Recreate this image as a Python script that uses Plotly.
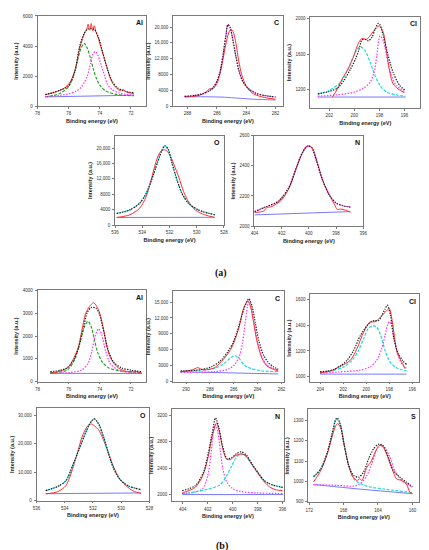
import plotly.graph_objects as go

# ---------------- (a) Al 2p ----------------
al_a_raw_x = [77.5, 77.1, 76.7, 76.3, 76.1, 75.9, 75.7, 75.5, 75.3, 75.1, 74.95, 74.85, 74.75, 74.65, 74.55,
              74.45, 74.35, 74.25, 74.1, 73.9, 73.7, 73.5, 73.3, 73.1, 72.9, 72.7, 72.5, 72.3, 72.1, 71.8]
al_a_raw = [760, 860, 990, 1180, 1350, 1600, 2050, 2750, 3800, 4500, 4900, 5050, 5450, 5050, 5500,
            5000, 5350, 4950, 4550, 3850, 3150, 2450, 1800, 1400, 1180, 1020, 1100, 960, 890, 850]
al_a_fit_x = [77.5, 77.0, 76.5, 76.0, 75.6, 75.3, 75.0, 74.8, 74.55, 74.35, 74.1, 73.8, 73.5, 73.2, 72.85, 72.4, 71.8]
al_a_fit = [770, 900, 1080, 1350, 2300, 3950, 4850, 5120, 5150, 5100, 4620, 3520, 2420, 1650, 1210, 990, 880]
al_a_p1_x = [77.5, 77.0, 76.5, 76.0, 75.7, 75.4, 75.2, 75.0, 74.8, 74.6, 74.4, 74.2, 74.0, 73.6, 73.0, 72.5, 71.8]
al_a_p1 = [620, 700, 880, 1300, 2000, 3150, 3850, 4180, 3850, 3200, 2400, 1800, 1400, 1000, 800, 720, 690]
al_a_p2_x = [77.5, 76.5, 76.0, 75.5, 75.2, 75.0, 74.8, 74.6, 74.45, 74.3, 74.15, 73.95, 73.7, 73.5, 73.2, 72.8, 72.4, 71.8]
al_a_p2 = [640, 720, 820, 1000, 1250, 1550, 2000, 2800, 3450, 3630, 3450, 2850, 2050, 1450, 1100, 880, 790, 730]
al_a_bg_x = [77.5, 71.8]
al_a_bg = [615, 725]

# ---------------- (a) C 1s ----------------
c_a_raw_x = [288.2, 287.6, 287.1, 286.7, 286.5, 286.3, 286.0, 285.8, 285.6, 285.4, 285.2, 285.05, 284.9,
             284.7, 284.5, 284.3, 284.0, 283.6, 283.0, 282.5, 282.0]
c_a_raw = [2300, 2450, 2850, 3700, 4400, 4300, 5700, 8000, 11500, 15500, 18500, 19400, 18900,
           15800, 11200, 7900, 5000, 3300, 2400, 2000, 1750]
c_a_fit_x = [288.2, 287.5, 287.0, 286.5, 286.2, 286.0, 285.8, 285.6, 285.4, 285.25, 285.1, 284.9, 284.7,
             284.5, 284.2, 283.8, 283.3, 282.8, 282.0]
c_a_fit = [2450, 2700, 3100, 3900, 5000, 6300, 8500, 12500, 17500, 20600, 19900, 16500, 12500,
           9000, 6000, 4300, 3200, 2700, 2300]
c_a_bg_x = [288.2, 286.5, 285.5, 284.5, 283.5, 282.0]
c_a_bg = [2400, 2350, 2250, 2000, 1750, 1550]

# ---------------- (a) Cl 2p ----------------
cl_a_raw_x = [201.74, 201.35, 200.96, 200.43, 200.04, 199.65, 199.39, 199.0, 198.6, 198.21, 198.0, 197.69,
              197.43, 197.17, 196.91, 196.52, 196.0]
cl_a_raw = [1115, 1207, 1320, 1450, 1581, 1731, 1776, 1768, 1836, 1900, 1918, 1843, 1619, 1394, 1264, 1207, 1163]
cl_a_fit_x = [202.9, 202.0, 201.35, 200.83, 200.3, 199.91, 199.65, 199.39, 199.13, 198.87, 198.6, 198.35,
              198.08, 197.95, 197.69, 197.3, 196.91, 196.39, 195.92]
cl_a_fit = [1151, 1178, 1215, 1300, 1432, 1544, 1640, 1760, 1765, 1750, 1790, 1880, 1948, 1930, 1806,
            1581, 1394, 1245, 1189]
cl_a_p1_x = [202.91, 202.0, 201.09, 200.56, 200.04, 199.73, 199.47, 199.13, 198.74, 198.35, 197.95, 197.43,
             196.65, 195.92]
cl_a_p1 = [1151, 1189, 1282, 1413, 1581, 1664, 1682, 1638, 1507, 1357, 1245, 1170, 1140, 1125]
cl_a_p2_x = [202.91, 201.35, 200.04, 199.26, 198.74, 198.42, 198.21, 198.06, 197.95, 197.69, 197.43, 197.04,
             196.65, 195.92]
cl_a_p2 = [1125, 1140, 1170, 1215, 1282, 1394, 1581, 1750, 1806, 1750, 1581, 1357, 1245, 1170]
cl_a_bg_x = [202.91, 195.92]
cl_a_bg = [1115, 1115]

# ---------------- (a) O 1s ----------------
o_a_raw_x = [535.88, 534.92, 534.2, 533.72, 533.36, 533.0, 532.71, 532.4, 532.16, 531.92, 531.6, 531.32,
             530.96, 530.6, 530.12, 529.4, 528.68]
o_a_raw = [1970, 2650, 4360, 7350, 11630, 16330, 18900, 19580, 19150, 17780, 15050, 12480,
           8640, 6070, 3930, 2650, 1970]
o_a_fit_x = [535.88, 534.92, 534.2, 533.72, 533.24, 532.88, 532.57, 532.35, 532.11, 531.8, 531.44, 531.08,
             530.6, 529.88, 528.68]
o_a_fit = [2990, 3930, 5640, 8200, 12480, 16330, 19320, 20600, 19750, 15900, 11630, 8200, 5640, 3930, 2650]
o_a_bg_x = [535.88, 528.68]
o_a_bg = [1970, 2000]

# ---------------- (a) N 1s ----------------
n_a_raw_x = [404.0, 403.3, 403.1, 402.7, 402.0, 401.4, 400.9, 400.5, 400.2, 399.95, 399.7, 399.35, 398.99,
             398.5, 398.15, 397.9, 397.67, 397.3, 396.95]
n_a_raw = [2090, 2100, 2122, 2130, 2174, 2262, 2392, 2480, 2528, 2532, 2512, 2414, 2305,
           2207, 2148, 2109, 2113, 2105, 2092]
n_a_fit_x = [404.0, 403.2, 402.25, 401.5, 400.9, 400.5, 400.1, 399.8, 399.45, 398.99, 398.5, 398.0, 397.5, 396.95]
n_a_fit = [2095, 2126, 2164, 2251, 2392, 2484, 2532, 2523, 2436, 2305, 2207, 2153, 2135, 2126]
n_a_bg_x = [404.0, 396.95]
n_a_bg = [2074, 2096]

# ---------------- (b) Al 2p ----------------
al_b_raw_x = [77.18, 76.52, 76.0, 75.69, 75.59, 75.38, 75.18, 74.9, 74.66, 74.41, 74.21, 74.0, 73.73, 73.53,
              73.22, 72.8, 72.19, 71.77, 71.3]
al_b_raw = [360, 460, 640, 1000, 1140, 1500, 2145, 3000, 3290, 3460, 3320, 3000, 2220, 1500,
            930, 600, 430, 460, 360]
al_b_fit_x = [77.18, 76.52, 76.1, 75.69, 75.38, 75.07, 74.82, 74.56, 74.25, 74.04, 73.73, 73.42, 73.11, 72.6,
              71.98, 71.3]
al_b_fit = [430, 500, 600, 930, 1430, 2290, 3000, 3250, 3220, 3000, 2145, 1290, 860, 600, 500, 430]
al_b_p1_x = [77.18, 76.1, 75.59, 75.28, 74.97, 74.76, 74.56, 74.35, 74.14, 73.84, 73.42, 72.6, 71.3]
al_b_p1 = [390, 500, 1000, 1716, 2430, 2645, 2430, 1860, 1290, 860, 600, 460, 390]
al_b_p2_x = [77.18, 75.9, 75.18, 74.76, 74.5, 74.29, 74.08, 73.88, 73.63, 73.32, 72.8, 71.98, 71.3]
al_b_p2 = [360, 400, 500, 790, 1360, 2000, 2317, 2075, 1360, 790, 500, 400, 370]
al_b_bg_x = [77.18, 71.3]
al_b_bg = [360, 355]

# ---------------- (b) C 1s ----------------
c_b_raw_x = [290.46, 289.51, 289.02, 288.55, 287.6, 287.05, 286.37, 285.96, 285.55, 285.14, 284.81, 284.59,
             284.32, 284.04, 283.63, 283.22, 282.68, 282.27]
c_b_raw = [1875, 2190, 2625, 2190, 2625, 3750, 5630, 7500, 10310, 14060, 15190, 14060,
           10940, 7500, 4375, 2940, 2310, 2000]
c_b_fit_x = [290.46, 288.96, 287.87, 287.05, 286.5, 286.09, 285.68, 285.27, 284.86, 284.73, 284.45, 284.18,
             283.91, 283.5, 283.09, 282.68, 282.27]
c_b_fit = [2000, 2190, 2810, 4060, 5630, 7190, 9690, 12810, 15310, 15630, 14060, 10940,
           7810, 5000, 3560, 2810, 2310]
c_b_p1_x = [290.46, 288.69, 287.6, 286.78, 286.23, 285.9, 285.55, 285.14, 284.59, 283.77, 282.27]
c_b_p1 = [1875, 2190, 2500, 3440, 4560, 4875, 4375, 3125, 2500, 2060, 1875]
c_b_p2_x = [290.46, 287.6, 286.5, 285.96, 285.55, 285.27, 285.05, 284.86, 284.73, 284.54, 284.32, 284.04,
            283.63, 283.22, 282.68, 282.27]
c_b_p2 = [1750, 1875, 2310, 3125, 4690, 7190, 10940, 14060, 15440, 14060, 11250, 7810,
          4690, 3125, 2500, 2190]
c_b_bg_x = [290.46, 282.27]
c_b_bg = [1850, 1440]

# ---------------- (b) Cl 2p ----------------
cl_b_raw_x = [204.0, 203.09, 202.51, 201.8, 201.37, 200.8, 200.23, 199.66, 199.23, 198.86, 198.51, 198.23,
              198.0, 197.8, 197.6, 197.37, 197.09, 196.8, 196.66]
cl_b_raw = [1031, 1044, 1069, 1102, 1128, 1218, 1346, 1423, 1428, 1454, 1487, 1513,
            1531, 1461, 1346, 1205, 1141, 1095, 1064]
cl_b_fit_x = [204.0, 203.37, 202.8, 202.23, 201.66, 201.09, 200.51, 199.94, 199.6, 199.31, 198.94, 198.66,
              198.37, 198.17, 197.89, 197.6, 197.23, 196.86, 196.51]
cl_b_fit = [1038, 1044, 1056, 1085, 1128, 1205, 1320, 1397, 1428, 1436, 1436, 1474,
            1526, 1556, 1474, 1295, 1180, 1128, 1095]
cl_b_p1_x = [204.0, 202.8, 201.94, 201.23, 200.66, 200.23, 199.8, 199.43, 199.09, 198.74, 198.37, 197.94,
             197.37, 196.51]
cl_b_p1 = [1033, 1051, 1077, 1128, 1205, 1295, 1377, 1397, 1385, 1320, 1205, 1115, 1069, 1044]
cl_b_p2_x = [204.0, 202.23, 200.51, 199.66, 199.09, 198.66, 198.37, 198.17, 198.0, 197.8, 197.6, 197.31,
             196.94, 196.51]
cl_b_p2 = [1026, 1038, 1051, 1077, 1128, 1218, 1320, 1397, 1428, 1397, 1308, 1192, 1102, 1064]
cl_b_bg_x = [204.0, 196.51]
cl_b_bg = [1020, 1020]

# ---------------- (b) O 1s ----------------
o_b_raw_x = [535.35, 534.49, 533.92, 533.57, 533.1, 532.76, 532.41, 532.13, 531.9, 531.6, 531.26, 530.91,
             530.56, 530.1, 529.52, 529.06, 528.59]
o_b_raw = [2310, 3120, 5200, 9250, 16760, 22540, 26010, 26930, 26240, 24850, 21390, 16760,
           12140, 7510, 4620, 3120, 2540]
o_b_fit_x = [535.35, 534.49, 533.92, 533.45, 532.99, 532.53, 532.18, 531.9, 531.6, 531.26, 530.91, 530.56,
             530.1, 529.52, 528.59]
o_b_fit = [3470, 4970, 6940, 12140, 17920, 23700, 27400, 28670, 26930, 22540, 16760, 11560, 7510, 5200, 3815]
o_b_bg_x = [535.35, 528.59]
o_b_bg = [2400, 2650]

# ---------------- (b) N 1s ----------------
n_b_raw_x = [404.05, 403.0, 402.35, 401.95, 401.64, 401.3, 401.1, 400.8, 400.5, 400.2, 399.8, 399.4, 399.0,
             398.5, 398.0, 397.5, 397.0, 396.5, 396.0]
n_b_raw = [2026, 2110, 2311, 2587, 2888, 3089, 2980, 2700, 2540, 2530, 2590, 2615, 2600,
           2470, 2330, 2200, 2110, 2070, 2060]
n_b_fit_x = [404.05, 403.0, 402.35, 401.95, 401.64, 401.38, 401.1, 400.8, 400.45, 400.1, 399.7, 399.33, 398.9,
             398.4, 397.9, 397.5, 397.0, 396.5, 395.95]
n_b_fit = [2060, 2136, 2336, 2637, 2938, 3164, 3010, 2730, 2545, 2560, 2620, 2650, 2600,
           2450, 2320, 2220, 2160, 2130, 2110]
n_b_p1_x = [404.05, 403.0, 402.4, 402.0, 401.75, 401.55, 401.38, 401.2, 401.0, 400.8, 400.5, 400.0, 399.3,
            398.0, 395.95]
n_b_p1 = [2015, 2040, 2090, 2286, 2600, 2950, 3065, 2960, 2680, 2400, 2200, 2090, 2045, 2025, 2015]
n_b_p2_x = [404.05, 403.0, 402.0, 401.0, 400.5, 400.1, 399.7, 399.33, 398.9, 398.4, 397.9, 397.5, 397.0,
            396.5, 395.95]
n_b_p2 = [2010, 2040, 2080, 2150, 2280, 2430, 2570, 2622, 2570, 2437, 2300, 2211, 2160, 2130, 2105]
n_b_bg_x = [404.05, 395.95]
n_b_bg = [2000, 2000]

# ---------------- (b) S 2p ----------------
s_b_raw_x = [171.5, 170.66, 169.9, 169.32, 168.93, 168.67, 168.28, 167.9, 167.4, 166.9, 166.44, 166.14,
             165.87, 165.3, 164.84, 164.34, 163.84, 163.46, 163.0, 162.42, 161.85, 161.27, 160.7, 160.31, 160.0]
s_b_raw = [997, 1053, 1134, 1223, 1271, 1284, 1255, 1174, 1077, 1021, 1005, 1013,
           1005, 1069, 1094, 1142, 1177, 1171, 1134, 1069, 1013, 1005, 989, 948, 940]
s_b_fit_x = [171.5, 170.66, 169.9, 169.32, 168.93, 168.74, 168.44, 167.98, 167.4, 166.83, 166.25, 165.68,
             165.1, 164.53, 163.95, 163.38, 162.8, 162.23, 161.46, 160.7, 160.0]
s_b_fit = [1024, 1061, 1142, 1239, 1303, 1311, 1287, 1190, 1077, 1029, 1021, 1045,
           1110, 1158, 1182, 1174, 1118, 1053, 1021, 997, 973]
s_b_p1_x = [171.5, 170.66, 169.9, 169.32, 168.82, 168.36, 167.98, 167.4, 166.83, 166.06, 164.91, 163.0, 160.0]
s_b_p1 = [1021, 1061, 1139, 1231, 1306, 1279, 1182, 1077, 1013, 989, 973, 961, 945]
s_b_p2_x = [171.5, 168.74, 166.83, 166.06, 165.3, 164.72, 164.15, 163.76, 163.19, 162.61, 162.04, 161.27,
            160.7, 160.0]
s_b_p2 = [984, 981, 977, 989, 1029, 1086, 1158, 1177, 1166, 1118, 1053, 1005, 989, 973]
s_b_bg_x = [171.5, 166.0, 160.0]
s_b_bg = [985, 962, 940]

W, H = 429, 550

# line styles of the fitting software
STYLES = {
    'bg': dict(color='#7878ff', width=1.0, dash='solid'),
    'raw': dict(color='#ff2e2e', width=1.0, dash='solid'),
    'green': dict(color='#1a9e1a', width=1.1, dash='3px,1.5px'),
    'magenta': dict(color='#ff30ff', width=1.2, dash='1.5px,1.5px'),
    'cyan': dict(color='#18dcdc', width=1.2, dash='3px,1.5px'),
    'fit': dict(color='#1a1a1a', width=1.2, dash='1.3px,1.3px'),
}

# (box in px: left, top, right, bottom), x range, x ticks, y range, y ticks, y tick text, label, curves
panels = [
    dict(box=(26, 6, 137, 97), xr=[78, 71], xt=[78, 76, 74, 72], yr=[0, 6000],
         yt=[0, 2000, 4000, 6000], ytt=None, name='Al',
         curves=[(al_a_bg_x, al_a_bg, 'bg'), (al_a_p1_x, al_a_p1, 'green'), (al_a_p2_x, al_a_p2, 'magenta'),
                 (al_a_raw_x, al_a_raw, 'raw'), (al_a_fit_x, al_a_fit, 'fit')]),
    dict(box=(164, 6, 276, 97), xr=[289, 281.5], xt=[288, 286, 284, 282], yr=[0, 22800],
         yt=[0, 4000, 8000, 12000, 16000, 20000], ytt=['0', '4000', '8000', '12,000', '16,000', '20,000'], name='C',
         curves=[(c_a_bg_x, c_a_bg, 'bg'), (c_a_raw_x, c_a_raw, 'raw'), (c_a_fit_x, c_a_fit, 'magenta'),
                 (c_a_fit_x, c_a_fit, 'fit')]),
    dict(box=(304, 7, 416, 99), xr=[203.5, 194.75], xt=[202, 200, 198, 196], yr=[990, 2020],
         yt=[1200, 1600, 2000], ytt=None, name='Cl',
         curves=[(cl_a_bg_x, cl_a_bg, 'bg'), (cl_a_p1_x, cl_a_p1, 'cyan'), (cl_a_p2_x, cl_a_p2, 'magenta'),
                 (cl_a_raw_x, cl_a_raw, 'raw'), (cl_a_fit_x, cl_a_fit, 'fit')]),
    dict(box=(105, 127, 216, 217), xr=[536, 528], xt=[536, 534, 532, 530, 528], yr=[0, 23200],
         yt=[0, 4000, 8000, 12000, 16000, 20000], ytt=['0', '4000', '8000', '12,000', '16,000', '20,000'], name='O',
         curves=[(o_a_bg_x, o_a_bg, 'bg'), (o_a_raw_x, o_a_raw, 'raw'), (o_a_fit_x, o_a_fit, 'cyan'),
                 (o_a_fit_x, o_a_fit, 'fit')]),
    dict(box=(247, 127, 358, 218), xr=[404, 396], xt=[404, 402, 400, 398, 396], yr=[2000, 2600],
         yt=[2000, 2200, 2400, 2600], ytt=None, name='N',
         curves=[(n_a_bg_x, n_a_bg, 'bg'), (n_a_raw_x, n_a_raw, 'raw'), (n_a_fit_x, n_a_fit, 'magenta'),
                 (n_a_fit_x, n_a_fit, 'fit')]),
    dict(box=(26, 283, 137, 375), xr=[78, 71], xt=[78, 76, 74, 72], yr=[0, 4000],
         yt=[0, 1000, 2000, 3000, 4000], ytt=None, name='Al',
         curves=[(al_b_bg_x, al_b_bg, 'bg'), (al_b_p1_x, al_b_p1, 'green'), (al_b_p2_x, al_b_p2, 'magenta'),
                 (al_b_raw_x, al_b_raw, 'raw'), (al_b_fit_x, al_b_fit, 'fit')]),
    dict(box=(164, 284, 277, 375), xr=[291.1, 281.8], xt=[290, 288, 286, 284, 282], yr=[0, 17000],
         yt=[0, 3000, 6000, 9000, 12000, 15000], ytt=['0', '3000', '6000', '9000', '12,000', '15,000'], name='C',
         curves=[(c_b_bg_x, c_b_bg, 'bg'), (c_b_p1_x, c_b_p1, 'cyan'), (c_b_p2_x, c_b_p2, 'magenta'),
                 (c_b_raw_x, c_b_raw, 'raw'), (c_b_fit_x, c_b_fit, 'fit')]),
    dict(box=(304, 287, 415, 375), xr=[204.85, 195.4], xt=[204, 202, 200, 198, 196], yr=[962, 1640],
         yt=[1000, 1200, 1400, 1600], ytt=None, name='Cl',
         curves=[(cl_b_bg_x, cl_b_bg, 'bg'), (cl_b_p1_x, cl_b_p1, 'cyan'), (cl_b_p2_x, cl_b_p2, 'magenta'),
                 (cl_b_raw_x, cl_b_raw, 'raw'), (cl_b_fit_x, cl_b_fit, 'fit')]),
    dict(box=(25, 402, 140, 495), xr=[536, 528], xt=[536, 534, 532, 530, 528], yr=[0, 32400],
         yt=[0, 10000, 20000, 30000], ytt=['0', '10,000', '20,000', '30,000'], name='O',
         curves=[(o_b_bg_x, o_b_bg, 'bg'), (o_b_raw_x, o_b_raw, 'raw'), (o_b_fit_x, o_b_fit, 'cyan'),
                 (o_b_fit_x, o_b_fit, 'fit')]),
    dict(box=(163, 403, 277, 496), xr=[404.87, 395.9], xt=[404, 402, 400, 398, 396], yr=[1895, 3295],
         yt=[2000, 2400, 2800, 3200], ytt=None, name='N',
         curves=[(n_b_bg_x, n_b_bg, 'bg'), (n_b_p1_x, n_b_p1, 'magenta'), (n_b_p2_x, n_b_p2, 'cyan'),
                 (n_b_raw_x, n_b_raw, 'raw'), (n_b_fit_x, n_b_fit, 'fit')]),
    dict(box=(302, 403, 415, 497), xr=[172.1, 159.2], xt=[172, 168, 164, 160], yr=[897, 1353],
         yt=[900, 1000, 1100, 1200, 1300], ytt=None, name='S',
         curves=[(s_b_bg_x, s_b_bg, 'bg'), (s_b_p1_x, s_b_p1, 'cyan'), (s_b_p2_x, s_b_p2, 'magenta'),
                 (s_b_raw_x, s_b_raw, 'raw'), (s_b_fit_x, s_b_fit, 'fit')]),
]

fig = go.Figure()
annotations = []

axis_style = dict(showline=True, linecolor='#7a7a7a', linewidth=0.8, mirror=True, ticks='outside',
                  ticklen=2, tickwidth=0.6, tickcolor='#7a7a7a', showgrid=False, zeroline=False,
                  tickfont=dict(size=4.5, color='#333333', family='Liberation Sans'))

for k, p in enumerate(panels, start=1):
    sfx = '' if k == 1 else str(k)
    left, top, right, bottom = p['box']
    fig.layout['xaxis' + sfx] = dict(
        domain=[left / W, right / W], range=p['xr'], tickmode='array', tickvals=p['xt'],
        anchor='y' + sfx, ticklabelstandoff=1,
        title=dict(text='<b>Binding energy (eV)</b>', standoff=3,
                   font=dict(size=5.5, color='#222222', family='Liberation Sans')),
        **axis_style)
    fig.layout['yaxis' + sfx] = dict(
        domain=[1 - bottom / H, 1 - top / H], range=p['yr'], tickmode='array', tickvals=p['yt'],
        ticktext=p['ytt'] if p['ytt'] else [str(v) for v in p['yt']],
        anchor='x' + sfx, ticklabelstandoff=1,
        title=dict(text='<b>Intensity (a.u.)</b>', standoff=3,
                   font=dict(size=5.5, color='#222222', family='Liberation Sans')),
        **axis_style)
    for xs, ys, st in p['curves']:
        s = STYLES[st]
        fig.add_trace(go.Scatter(
            x=xs, y=ys, mode='lines', xaxis='x' + sfx, yaxis='y' + sfx, hoverinfo='skip',
            line=dict(color=s['color'], width=s['width'], dash=s['dash'], shape='spline', smoothing=0.8)))
    annotations.append(dict(text='<b>' + p['name'] + '</b>', xref='x' + sfx + ' domain',
                            yref='y' + sfx + ' domain', x=0.985, y=0.985, xanchor='right', yanchor='top',
                            showarrow=False, font=dict(size=7, color='#111111', family='Liberation Sans')))

annotations.append(dict(text='<b>(a)</b>', xref='paper', yref='paper', x=213 / W, y=1 - 265 / H,
                        xanchor='center', yanchor='middle', showarrow=False,
                        font=dict(size=10, color='#111111', family='Liberation Serif')))
annotations.append(dict(text='<b>(b)</b>', xref='paper', yref='paper', x=214 / W, y=1 - 541 / H,
                        xanchor='center', yanchor='middle', showarrow=False,
                        font=dict(size=10, color='#111111', family='Liberation Serif')))

fig.update_layout(width=W, height=H, margin=dict(l=0, r=0, t=0, b=0), showlegend=False,
                  paper_bgcolor='white', plot_bgcolor='white', annotations=annotations)

fig.write_html("out.html")
